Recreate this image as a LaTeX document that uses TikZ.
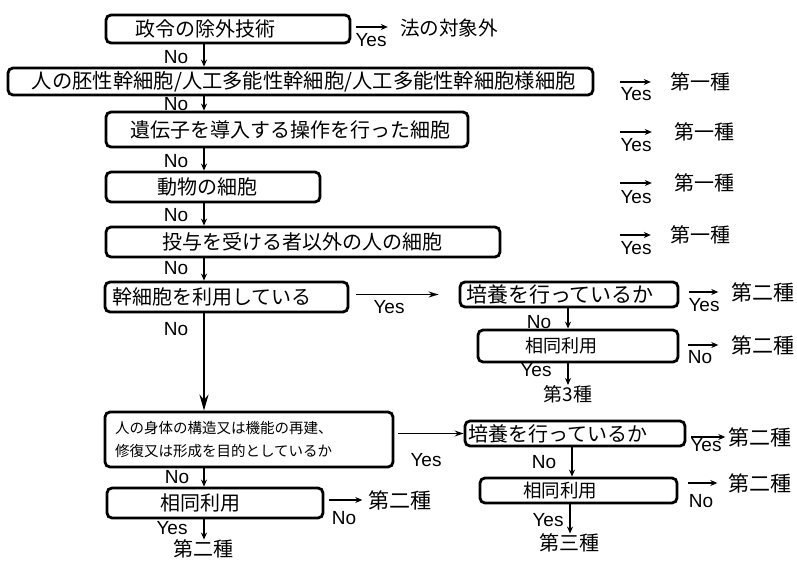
\documentclass[tikz,border=0pt]{standalone}
\usepackage{fontspec}
\setmainfont{Noto Sans CJK JP}
\newfontfamily\lat{Liberation Sans}
\usetikzlibrary{arrows.meta}
\begin{document}
\begin{tikzpicture}[x=1pt,y=-1pt,
  box/.style={draw, line width=2.8pt, rounded corners=5pt, inner sep=0pt, align=left},
  fA/.style={font=\fontsize{20}{24}\selectfont},
  lab/.style={inner sep=0pt, font=\lat\fontsize{19}{22}\selectfont},
  res/.style={inner sep=0pt, font=\fontsize{20}{24}\selectfont},
  resB/.style={inner sep=0pt, font=\fontsize{21}{24}\selectfont},
  darr/.style={line width=1.3pt, -{Stealth[length=7pt,width=6pt]}},
  harr/.style={line width=1.2pt, -{Stealth[length=7pt,width=6pt]}},
  bigarr/.style={line width=2.4pt, -{Stealth[length=16pt,width=9pt]}}]
\useasboundingbox (0,0) rectangle (797,561);
\fill[white] (0,0) rectangle (797,561);
% columns
\coordinate (colL) at (204,0);
\coordinate (colA) at (568,0);
\coordinate (colB) at (572,0);
\coordinate (colC) at (570,0);
% left column boxes
\node[box, fA, text width=244pt, minimum height=28pt] (b1) at (228,29) {\hspace*{29pt}政令の除外技術};
\node[box, font=\fontsize{20.3}{24}\selectfont, text width=585pt, minimum height=27pt] (b2) at (300.5,81.5) {\hspace*{24pt}人の胚性幹細胞/人工多能性幹細胞/人工多能性幹細胞様細胞};
\node[box, fA, text width=362pt, minimum height=35pt] (b3) at (287,129.5) {\hspace*{24pt}遺伝子を導入する操作を行った細胞};
\node[box, fA, text width=214pt, minimum height=30pt] (b4) at (213,187) {\hspace*{51pt}動物の細胞};
\node[box, fA, text width=394pt, minimum height=30pt] (b5) at (303,242) {\hspace*{56pt}投与を受ける者以外の人の細胞};
\node[box, fA, text width=243pt, minimum height=30pt] (b6) at (226.5,297) {\hspace*{7pt}幹細胞を利用している};
\node[box, font=\fontsize{14.5}{23}\selectfont, text width=288pt, minimum height=55pt] (b7) at (249,439.5) {\hspace*{10pt}人の身体の構造又は機能の再建、\\\hspace*{10pt}修復又は形成を目的としているか};
\node[box, fA, text width=216pt, minimum height=30pt] (b8) at (215,503) {\hspace*{53pt}相同利用};
% right column boxes
\node[box, font=\fontsize{21}{24}\selectfont, text width=218pt, minimum height=25pt] (r1) at (569,294.5) {\hspace*{6pt}培養を行っているか};
\node[box, font=\fontsize{18}{22}\selectfont, text width=200pt, minimum height=32pt] (r2) at (578,346) {\hspace*{47pt}相同利用};
\node[box, fA, text width=220pt, minimum height=25pt] (r3) at (575,433.5) {\hspace*{3pt}培養を行っているか};
\node[box, font=\fontsize{18.5}{22}\selectfont, text width=197pt, minimum height=25pt] (r4) at (578.5,490.5) {\hspace*{43pt}相同利用};
% results
\node[res, font=\fontsize{19.6}{24}\selectfont] (t1) at (449,28) {法の対象外};
\node[res] (res2) at (700,82) {第一種};
\node[res] (res3) at (704,132) {第一種};
\node[res] (res4) at (704,183) {第一種};
\node[res] (res5) at (700,235) {第一種};
\node[resB] (g1) at (763,292) {第二種};
\node[resB] (g2) at (763,345) {第二種};
\node[resB] (g3) at (760,437) {第二種};
\node[resB] (g4) at (760,483) {第二種};
\node[res, font=\fontsize{19}{22}\selectfont] (t3) at (568,394) {第3種};
\node[res] (t4) at (569,543) {第三種};
\node[resB] (gL) at (400,500) {第二種};
\node[res] (gB) at (203,549) {第二種};
% labels
\node[lab] (n1) at (176,57) {No};
\node[lab] (n2) at (176,104) {No};
\node[lab] (n3) at (176,161) {No};
\node[lab] (n4) at (176,215) {No};
\node[lab] (n5) at (176,268) {No};
\node[lab] (n6) at (176,329) {No};
\node[lab] (n7) at (177,477) {No};
\node[lab] (y8) at (172,528) {Yes};
\node[lab] (y1) at (371,40) {Yes};
\node[lab] (y2) at (636,94) {Yes};
\node[lab] (y3) at (636,145) {Yes};
\node[lab] (y4) at (636,197) {Yes};
\node[lab] (y5) at (636,248) {Yes};
\node[lab] (yb6) at (389,307) {Yes};
\node[lab] (yb7) at (426,460) {Yes};
\node[lab] (nb8) at (344,518) {No};
\node[lab] (yr1) at (704,305) {Yes};
\node[lab] (nr1) at (539,322) {No};
\node[lab] (nr2) at (700,357) {No};
\node[lab] (yr2) at (536,370) {Yes};
\node[lab] (yr3) at (706,445) {Yes};
\node[lab] (nr3) at (544,462) {No};
\node[lab] (nr4) at (701,501) {No};
\node[lab] (yr4) at (548,520) {Yes};
% left column connectors
\draw[darr] (b1.south -| colL) -- (b2.north -| colL);
\draw[darr] (b2.south -| colL) -- (b3.north -| colL);
\draw[darr] (b3.south -| colL) -- (b4.north -| colL);
\draw[darr] (b4.south -| colL) -- (b5.north -| colL);
\draw[darr] (b5.south -| colL) -- (b6.north -| colL);
\draw[bigarr] (b6.south -| colL) -- (b7.north -| colL);
\draw[darr] (b7.south -| colL) -- (b8.north -| colL);
\draw[darr] (b8.south -| colL) -- (gB.north -| colL);
% yes arrows to the right
\draw[harr, shorten <=5pt, shorten >=12pt] ([yshift=2pt]b1.east) -- ([yshift=2pt]b1.east -| t1.west);
\draw[harr, shorten >=19pt] (res2.west -| y2.west) -- (res2.west);
\draw[harr, shorten >=22pt] (res3.west -| y3.west) -- (res3.west);
\draw[harr, shorten >=22pt] (res4.west -| y4.west) -- (res4.west);
\draw[harr, shorten >=19pt] (res5.west -| y5.west) -- (res5.west);
\draw[harr, line width=1.4pt, -{Stealth[length=10pt,width=6pt]}, shorten <=7pt, shorten >=20pt] (b6.east |- r1.west) -- (r1.west);
\draw[harr, line width=1.4pt, -{Stealth[length=9pt,width=6pt]}, shorten <=4pt] (b7.east |- r3.west) -- (r3.west);
\draw[harr, shorten <=5pt, shorten >=6pt] (b8.east |- gL.west) -- (gL.west);
% right column connectors
\draw[harr, shorten <=10pt, shorten >=13pt] (r1.east |- g1.west) -- (g1.west);
\draw[darr] (r1.south -| colA) -- (r2.north -| colA);
\draw[harr, shorten <=9pt, shorten >=13pt] (r2.east |- g2.west) -- (g2.west);
\draw[darr] (r2.south -| colA) -- (t3.north -| colA);
\draw[harr, shorten <=5pt, shorten >=3pt] (r3.east |- g3.west) -- (g3.west);
\draw[darr] (r3.south -| colB) -- (r4.north -| colB);
\draw[harr, shorten <=10pt, shorten >=11pt] (r4.east |- g4.west) -- (g4.west);
\draw[darr] (r4.south -| colC) -- (t4.north -| colC);
\end{tikzpicture}
\end{document}
